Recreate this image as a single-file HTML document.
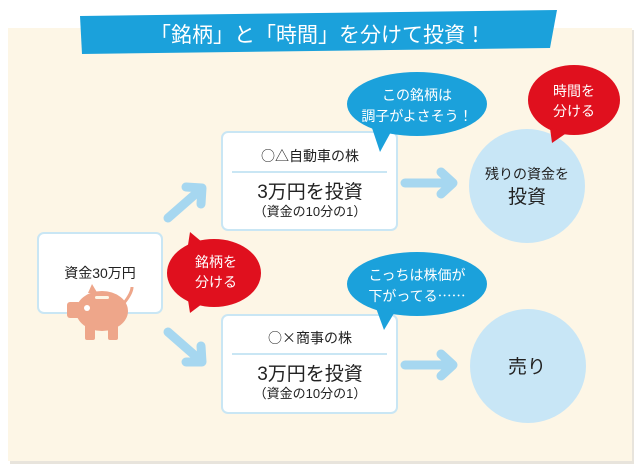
<!DOCTYPE html>
<html><head><meta charset="utf-8"><style>
html,body{margin:0;padding:0;background:#fff;}
svg{display:block;}
text{font-family:"Liberation Sans","Noto Sans CJK JP",sans-serif;}
.j{font-family:"Noto Sans CJK JP",sans-serif;}
</style></head><body>
<svg width="640" height="470" viewBox="0 0 640 470" xmlns="http://www.w3.org/2000/svg">
<rect x="10" y="30" width="624" height="434" fill="#e8e4dc"/>
<rect x="8" y="28" width="624" height="433" fill="#fdf6e6"/>
<polygon points="80,16 557,10 550,48 82,54" fill="#1ba1db"/>
<text x="318" y="42" font-size="21" fill="#fff" text-anchor="middle" class="j">「銘柄」と「時間」を分けて投資！</text>

<g stroke="#a6d7f0" stroke-width="9" stroke-linecap="round" stroke-linejoin="round" fill="none">
<line x1="168" y1="218" x2="200" y2="190"/>
<polyline points="186,187 202,188 201,204"/>
<line x1="168" y1="332" x2="200" y2="360"/>
<polyline points="186,362 202,362 201,346"/>
<line x1="405" y1="183" x2="452" y2="183"/>
<polyline points="441,172 453,183 441,194"/>
<line x1="405" y1="365" x2="452" y2="365"/>
<polyline points="441,354 453,365 441,376"/>
</g>

<rect x="38" y="233" width="124" height="80" rx="6" fill="#fff" stroke="#c9e6f4" stroke-width="2"/>
<text x="100" y="278" font-size="14" fill="#222" text-anchor="middle">資金30万円</text>
<g fill="#eea68a">
<ellipse cx="102" cy="311" rx="26" ry="20"/>
<rect x="85" y="318" width="10" height="22" rx="2"/>
<rect x="108" y="318" width="10" height="22" rx="2"/>
<rect x="67" y="302" width="14" height="16" rx="3"/>
<path d="M124,303 q8,-10 8,-16" stroke="#eea68a" stroke-width="3" fill="none"/>
<polygon points="88,293 92,284 98,294"/>
</g>
<rect x="95" y="296" width="14" height="3" rx="1.5" fill="#fdf6e6"/>
<circle cx="87" cy="308" r="3" fill="#fff"/>

<rect x="222" y="132" width="175" height="98" rx="6" fill="#fff" stroke="#c9e6f4" stroke-width="2"/>
<text x="310" y="161" font-size="14" fill="#222" text-anchor="middle" class="j">○△自動車の株</text>
<line x1="232" y1="172" x2="387" y2="172" stroke="#c9e6f4" stroke-width="2"/>
<text x="310" y="198" font-size="19" fill="#222" text-anchor="middle">3万円を投資</text>
<text x="310" y="216" font-size="13" fill="#222" text-anchor="middle">（資金の10分の1）</text>

<rect x="222" y="315" width="175" height="98" rx="6" fill="#fff" stroke="#c9e6f4" stroke-width="2"/>
<text x="310" y="343" font-size="14" fill="#222" text-anchor="middle" class="j">○×商事の株</text>
<line x1="232" y1="354" x2="387" y2="354" stroke="#c9e6f4" stroke-width="2"/>
<text x="310" y="380" font-size="19" fill="#222" text-anchor="middle">3万円を投資</text>
<text x="310" y="398" font-size="13" fill="#222" text-anchor="middle">（資金の10分の1）</text>

<ellipse cx="527" cy="186" rx="58" ry="57" fill="#c8e6f6"/>
<text x="527" y="179" font-size="14" fill="#222" text-anchor="middle">残りの資金を</text>
<text x="527" y="203" font-size="19" fill="#222" text-anchor="middle">投資</text>
<ellipse cx="528" cy="366" rx="58" ry="57" fill="#c8e6f6"/>
<text x="527" y="373" font-size="19" fill="#222" text-anchor="middle">売り</text>

<ellipse cx="417" cy="104" rx="70" ry="32" fill="#1ba1db"/>
<polygon points="372,128 392,130 380,152" fill="#1ba1db"/>
<text x="417" y="100" font-size="14" fill="#fff" text-anchor="middle">この銘柄は</text>
<text x="417" y="121" font-size="14" fill="#fff" text-anchor="middle">調子がよさそう！</text>
<ellipse cx="417" cy="284" rx="70" ry="32" fill="#1ba1db"/>
<polygon points="376,308 396,310 384,330" fill="#1ba1db"/>
<text x="417" y="280" font-size="14" fill="#fff" text-anchor="middle">こっちは株価が</text>
<text x="417" y="301" font-size="14" fill="#fff" text-anchor="middle" class="j">下がってる……</text>

<ellipse cx="574" cy="100" rx="46" ry="35" fill="#e0101e"/>
<polygon points="550,128 568,132 552,143" fill="#e0101e"/>
<text x="574" y="96" font-size="14" fill="#fff" text-anchor="middle">時間を</text>
<text x="574" y="116" font-size="14" fill="#fff" text-anchor="middle">分ける</text>
<ellipse cx="214" cy="273" rx="47" ry="34" fill="#e0101e"/>
<polygon points="188,245 190,232 202,242" fill="#e0101e"/>
<polygon points="188,300 190,313 202,304" fill="#e0101e"/>
<text x="216" y="267" font-size="14" fill="#fff" text-anchor="middle">銘柄を</text>
<text x="216" y="287" font-size="14" fill="#fff" text-anchor="middle">分ける</text>
</svg>
</body></html>
